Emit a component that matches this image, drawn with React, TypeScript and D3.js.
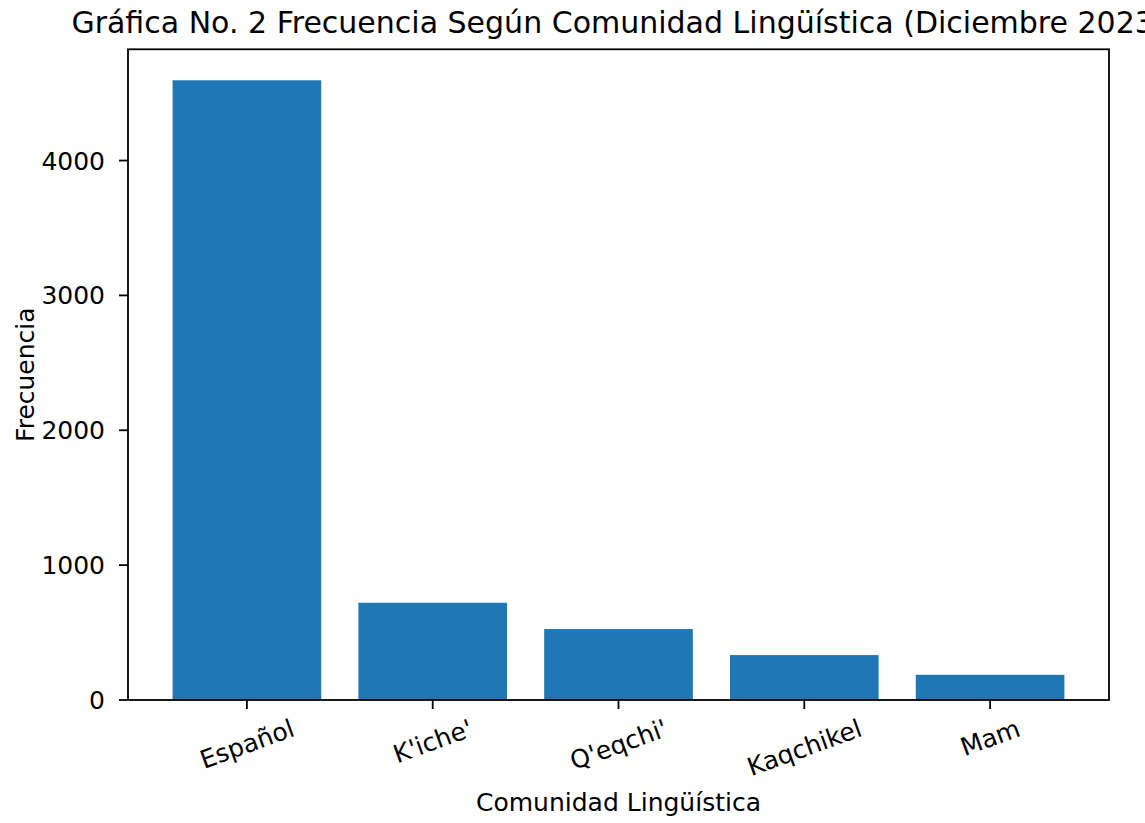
import React, { useEffect, useRef } from "react";
import * as d3 from "d3";

const categories = ["Español", "K'iche'", "Q'eqchi'", "Kaqchikel", "Mam"];
const values = [4595, 721, 526, 333, 187];
const yTicks = [0, 1000, 2000, 3000, 4000];

const WIDTH = 1145;
const HEIGHT = 823;
const FONT = "'DejaVu Sans', sans-serif";
const FS = 25;

const App: React.FC = () => {
  const svgRef = useRef<SVGSVGElement | null>(null);

  useEffect(() => {
    document.body.style.margin = "0";
    if (!svgRef.current) return;
    const svg = d3.select(svgRef.current);
    svg.selectAll("*").remove();

    const left = 128;
    const right = 1109;
    const top = 49.3;
    const bottom = 700;

    // matplotlib style margins: bars are 0.8 wide, 5% padding
    const x = d3
      .scaleLinear()
      .domain([-0.4 - 0.24, categories.length - 1 + 0.4 + 0.24])
      .range([left, right]);
    const y = d3
      .scaleLinear()
      .domain([0, (d3.max(values) ?? 0) * 1.05])
      .range([bottom, top]);

    svg
      .append("rect")
      .attr("width", WIDTH)
      .attr("height", HEIGHT)
      .attr("fill", "#fff");

    svg
      .selectAll(".bar")
      .data(values)
      .enter()
      .append("rect")
      .attr("class", "bar")
      .attr("x", (_, i) => x(i - 0.4))
      .attr("width", x(0.4) - x(-0.4))
      .attr("y", (d) => y(d))
      .attr("height", (d) => y(0) - y(d))
      .attr("fill", "#1f77b4");

    // spines
    svg
      .append("rect")
      .attr("x", left)
      .attr("y", top)
      .attr("width", right - left)
      .attr("height", bottom - top)
      .attr("fill", "none")
      .attr("stroke", "#000")
      .attr("stroke-width", 1.8);

    const tickLen = 9;

    // y ticks
    const yt = svg.append("g");
    yTicks.forEach((t) => {
      yt.append("line")
        .attr("x1", left - tickLen)
        .attr("x2", left)
        .attr("y1", y(t))
        .attr("y2", y(t))
        .attr("stroke", "#000")
        .attr("stroke-width", 1.8);
      yt.append("text")
        .attr("x", left - tickLen - 14)
        .attr("y", y(t))
        .attr("dy", "0.36em")
        .attr("text-anchor", "end")
        .style("font-family", FONT)
        .style("font-size", `${FS}px`)
        .text(t);
    });

    // x ticks with rotated labels (centered bounding box, like matplotlib)
    const angle = 20;
    const rad = (angle * Math.PI) / 180;
    categories.forEach((c, i) => {
      const cx = x(i);
      svg
        .append("line")
        .attr("x1", cx)
        .attr("x2", cx)
        .attr("y1", bottom)
        .attr("y2", bottom + tickLen)
        .attr("stroke", "#000")
        .attr("stroke-width", 1.8);
      const label = svg
        .append("text")
        .attr("text-anchor", "middle")
        .attr("dy", "0.36em")
        .style("font-family", FONT)
        .style("font-size", `${FS}px`)
        .text(c);
      const w = (label.node() as SVGTextElement).getComputedTextLength();
      const h = FS * 1.1;
      const H = w * Math.sin(rad) + h * Math.cos(rad);
      const labelTop = bottom + tickLen + 5;
      label.attr(
        "transform",
        `translate(${cx},${labelTop + H / 2}) rotate(${-angle})`
      );
    });

    // axis labels
    svg
      .append("text")
      .attr("x", (left + right) / 2)
      .attr("y", 811)
      .attr("text-anchor", "middle")
      .style("font-family", FONT)
      .style("font-size", `${FS}px`)
      .text("Comunidad Lingüística");

    svg
      .append("text")
      .attr("transform", `translate(34,${(top + bottom) / 2}) rotate(-90)`)
      .attr("text-anchor", "middle")
      .style("font-family", FONT)
      .style("font-size", `${FS}px`)
      .text("Frecuencia");

    // title
    svg
      .append("text")
      .attr("x", (left + right) / 2)
      .attr("y", 33)
      .attr("text-anchor", "middle")
      .style("font-family", FONT)
      .style("font-size", "30px")
      .text("Gráfica No. 2 Frecuencia Según Comunidad Lingüística (Diciembre 2023)");
  }, []);

  return (
    <svg
      ref={svgRef}
      width={WIDTH}
      height={HEIGHT}
      style={{ display: "block" }}
    />
  );
};

export default App;
